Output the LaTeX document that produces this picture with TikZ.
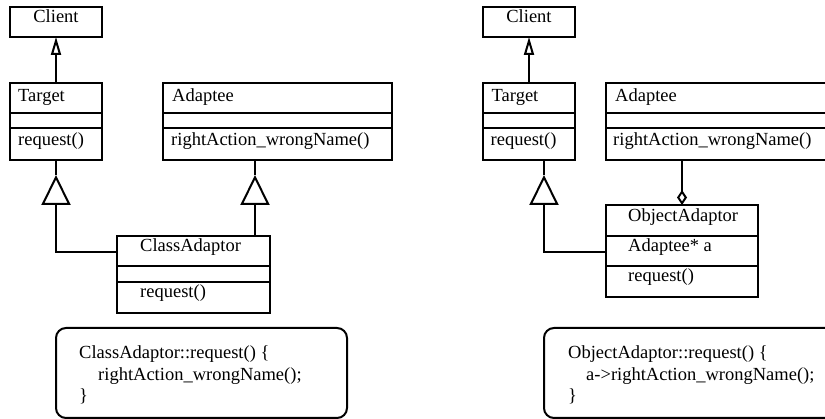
\documentclass[tikz,border=0pt]{standalone}
\usepackage{fontspec}
\setmainfont{Liberation Serif}
\usetikzlibrary{arrows.meta}
\begin{document}
\begin{tikzpicture}[x=1pt,y=-1pt,
  cls/.style={draw, line width=2pt, inner sep=0pt, outer sep=0pt, anchor=north west},
  txt/.style={inner sep=0pt, anchor=base west, font=\fontsize{18.5}{22}\selectfont},
  ctxt/.style={txt, anchor=base},
  ln/.style={line width=2pt},
  gens/.style={ln, -{Triangle[open,length=18pt,width=10pt]}},
  genb/.style={ln, -{Triangle[open,length=30pt,width=29pt]}},
  agg/.style={ln, -{Diamond[open,length=15pt,width=10pt]}},
  notebox/.style={draw, line width=2pt, rounded corners=10pt, inner sep=0pt, outer sep=0pt, anchor=north west}]
\useasboundingbox (0,0) rectangle (825,419);
\clip (0,0) rectangle (825,419);

% ---------- left diagram ----------
\node[cls, minimum width=92pt, minimum height=30pt] (client1) at (10,7) {};
\node[ctxt] (client1t) at (56,23) {Client};

\node[cls, minimum width=92pt, minimum height=77pt] (target1) at (10,83) {};
\draw[ln] ([yshift=-30pt]target1.north west) -- ([yshift=-30pt]target1.north east);
\draw[ln] ([yshift=-45pt]target1.north west) -- ([yshift=-45pt]target1.north east);
\node[txt] (target1t) at (18,102) {Target};
\node[txt] (target1m) at (18,146) {request()};

\node[cls, minimum width=229pt, minimum height=77pt] (adaptee1) at (163,83) {};
\draw[ln] ([yshift=-30pt]adaptee1.north west) -- ([yshift=-30pt]adaptee1.north east);
\draw[ln] ([yshift=-45pt]adaptee1.north west) -- ([yshift=-45pt]adaptee1.north east);
\node[txt] (adaptee1t) at (172,102) {Adaptee};
\node[txt] (adaptee1m) at (171,146) {rightAction\_wrongName()};

\node[cls, minimum width=153pt, minimum height=77pt] (ca) at (117,236) {};
\draw[ln] ([yshift=-30pt]ca.north west) -- ([yshift=-30pt]ca.north east);
\draw[ln] ([yshift=-46pt]ca.north west) -- ([yshift=-46pt]ca.north east);
\node[txt] (cat) at (140,252) {ClassAdaptor};
\node[txt] (cam) at (140,298) {request()};

\node[notebox, minimum width=291pt, minimum height=90pt] (note1) at (56,328) {};
\node[txt] (note1a) at (79,359) {ClassAdaptor::request() \{};
\node[txt] (note1b) at (98,381) {rightAction\_wrongName();};
\node[txt] (note1c) at (79,402) {\}};

\draw[gens] (target1.north) -- (client1.south);
\coordinate (g1) at (56,175);
\draw[genb] ([yshift=-16pt]ca.north west) -| (g1);
\draw[ln] (target1.south) -- (g1);
\coordinate (g2) at (255,175);
\draw[genb] ([xshift=-15pt]ca.north east) -- (g2);
\draw[ln] (g2 |- adaptee1.south) -- (g2);

% ---------- right diagram ----------
\node[cls, minimum width=92pt, minimum height=30pt] (client2) at (483,7) {};
\node[ctxt] (client2t) at (529,23) {Client};

\node[cls, minimum width=92pt, minimum height=77pt] (target2) at (483,83) {};
\draw[ln] ([yshift=-30pt]target2.north west) -- ([yshift=-30pt]target2.north east);
\draw[ln] ([yshift=-45pt]target2.north west) -- ([yshift=-45pt]target2.north east);
\node[txt] (target2t) at (491.5,102) {Target};
\node[txt] (target2m) at (490.5,146) {request()};

\node[cls, minimum width=240pt, minimum height=77pt] (adaptee2) at (606,83) {};
\draw[ln] ([yshift=-30pt]adaptee2.north west) -- ([yshift=-30pt]adaptee2.north east);
\draw[ln] ([yshift=-45pt]adaptee2.north west) -- ([yshift=-45pt]adaptee2.north east);
\node[txt] (adaptee2t) at (615,102) {Adaptee};
\node[txt] (adaptee2m) at (613,146) {rightAction\_wrongName()};

\node[cls, minimum width=152pt, minimum height=92pt] (oa) at (606,205) {};
\draw[ln] ([yshift=-31pt]oa.north west) -- ([yshift=-31pt]oa.north east);
\draw[ln] ([yshift=-61.5pt]oa.north west) -- ([yshift=-61.5pt]oa.north east);
\node[txt] (oat) at (628,222) {ObjectAdaptor};
\node[txt] (oaa) at (628,252) {Adaptee* a};
\node[txt] (oam) at (628,282) {request()};

\node[notebox, minimum width=300pt, minimum height=90pt] (note2) at (544,328) {};
\node[txt] (note2a) at (568,359) {ObjectAdaptor::request() \{};
\node[txt] (note2b) at (586,381) {a->rightAction\_wrongName();};
\node[txt] (note2c) at (568,402) {\}};

\draw[gens] (target2.north) -- (client2.south);
\coordinate (g3) at (544,175);
\draw[genb] ([yshift=-47pt]oa.north west) -| (g3);
\draw[ln] (g3 |- target2.south) -- (g3);
\draw[agg] (oa.north |- adaptee2.south) -- (oa.north);
\end{tikzpicture}
\end{document}
